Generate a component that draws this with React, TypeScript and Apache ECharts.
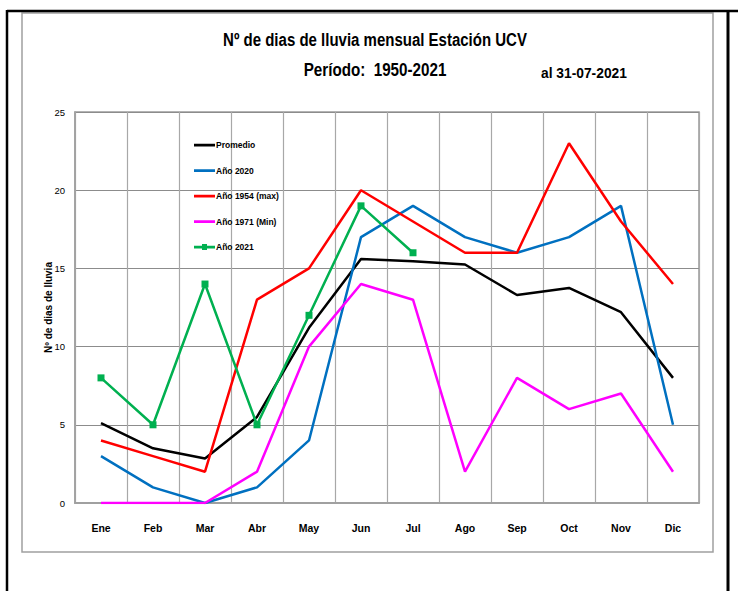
import React, { useEffect, useRef } from "react";
import * as echarts from "echarts";

const months = ["Ene", "Feb", "Mar", "Abr", "May", "Jun", "Jul", "Ago", "Sep", "Oct", "Nov", "Dic"];
const promedio = [5.1, 3.5, 2.85, 5.5, 11.2, 15.6, 15.45, 15.25, 13.3, 13.75, 12.2, 8.0];
const ano2020 = [3, 1, 0, 1, 4, 17, 19, 17, 16, 17, 19, 5];
const ano1954 = [4, 3, 2, 13, 15, 20, 18, 16, 16, 23, 18, 14];
const ano1971 = [0, 0, 0, 2, 10, 14, 13, 2, 8, 6, 7, 2];
const ano2021 = [8, 5, 14, 5, 12, 19, 16, null, null, null, null, null];
const seriesNames = ["Promedio", "Año 2020", "Año 1954 (max)", "Año 1971 (Min)", "Año 2021"];

const FONT = "Arial, 'Liberation Sans', sans-serif";
const LINE_ICON = "path://M0,0L0.01,0L0.01,0.01ZM0,10L0.01,10L0.01,10.01ZM0,3.8L21,3.8L21,6.4L0,6.4Z";
const MARK_ICON = LINE_ICON + "M8,2L13,2L13,8L8,8Z";

export default function App() {
  const ref = useRef<HTMLDivElement>(null);
  useEffect(() => {
    if (!ref.current) return;
    const chart = echarts.init(ref.current, undefined, { renderer: "svg" });
    const mk = (name: string, data: (number | null)[], color: string, sym = "none") => ({
      name,
      type: "line",
      data,
      symbol: sym,
      symbolSize: 7,
      showSymbol: sym !== "none",
      lineStyle: { color, width: 2.5 },
      itemStyle: { color },
      connectNulls: false,
    });
    const titleText = (text: string, x: number, y: number, size: number, sx: number, align = "center") => ({
      type: "text",
      x,
      y,
      scaleX: sx,
      style: { text, fontFamily: FONT, fontWeight: "bold", fontSize: size, fill: "#000", textAlign: align, textVerticalAlign: "middle" },
    });
    chart.setOption({
      animation: false,
      backgroundColor: "#fff",
      graphic: [
        { type: "rect", shape: { x: 22, y: 13, width: 691, height: 539 }, style: { fill: "none", stroke: "#a0a0a0", lineWidth: 1.5 }, z: 0 },
        { type: "line", shape: { x1: 7, y1: 11, x2: 738, y2: 11 }, style: { stroke: "#000", lineWidth: 2.5 } },
        { type: "line", shape: { x1: 7, y1: 10, x2: 7, y2: 591 }, style: { stroke: "#000", lineWidth: 2.5 } },
        { type: "line", shape: { x1: 728, y1: 10, x2: 728, y2: 591 }, style: { stroke: "#000", lineWidth: 3 } },
        titleText("Nº de dias de lluvia mensual Estación UCV", 375, 40, 19, 0.79),
        titleText("Período:  1950-2021", 375, 69, 19, 0.8),
        titleText("al 31-07-2021", 541, 73, 15, 0.92, "left"),
      ],
      legend: {
        orient: "vertical",
        left: 189,
        top: 135,
        itemWidth: 21,
        itemHeight: 10,
        itemGap: 15.5,
        symbolKeepAspect: false,
        textStyle: { fontFamily: FONT, fontWeight: "bold", fontSize: 8.5, color: "#000", padding: [0, 0, 0, -4] },
        data: seriesNames.map((n, i) => ({ name: n, icon: i === 4 ? MARK_ICON : LINE_ICON })),
      },
      grid: { left: 75, right: 39, top: 112, bottom: 88, show: true, borderColor: "#9a9a9a", borderWidth: 1.5 },
      xAxis: {
        type: "category",
        data: months,
        boundaryGap: true,
        axisLine: { lineStyle: { color: "#a0a0a0", width: 2 } },
        axisTick: { show: false },
        splitLine: { show: true, lineStyle: { color: "#a8a8a8", width: 1.2 } },
        axisLabel: { margin: 19, fontFamily: FONT, fontWeight: "bold", fontSize: 10.5, color: "#000", interval: 0 },
      },
      yAxis: {
        type: "value",
        min: 0,
        max: 25,
        interval: 5,
        name: "Nº de dias de lluvia",
        nameLocation: "middle",
        nameGap: 22,
        nameMoveOverlap: false,
        nameTextStyle: { fontFamily: FONT, fontWeight: "bold", fontSize: 10, color: "#000" },
        axisLine: { show: true, lineStyle: { color: "#a0a0a0", width: 1.5 } },
        axisTick: { show: false },
        splitLine: { show: true, lineStyle: { color: "#8c8c8c", width: 1.2 } },
        axisLabel: { margin: 10, fontFamily: FONT, fontSize: 9.5, color: "#000" },
      },
      series: [
        mk(seriesNames[0], promedio, "#000000"),
        mk(seriesNames[1], ano2020, "#0070C0"),
        mk(seriesNames[2], ano1954, "#FF0000"),
        mk(seriesNames[3], ano1971, "#FF00FF"),
        mk(seriesNames[4], ano2021, "#00B050", "rect"),
      ],
    });
    return () => chart.dispose();
  }, []);
  return <div ref={ref} style={{ width: 738, height: 591, position: "absolute", left: 0, top: 0 }} />;
}
